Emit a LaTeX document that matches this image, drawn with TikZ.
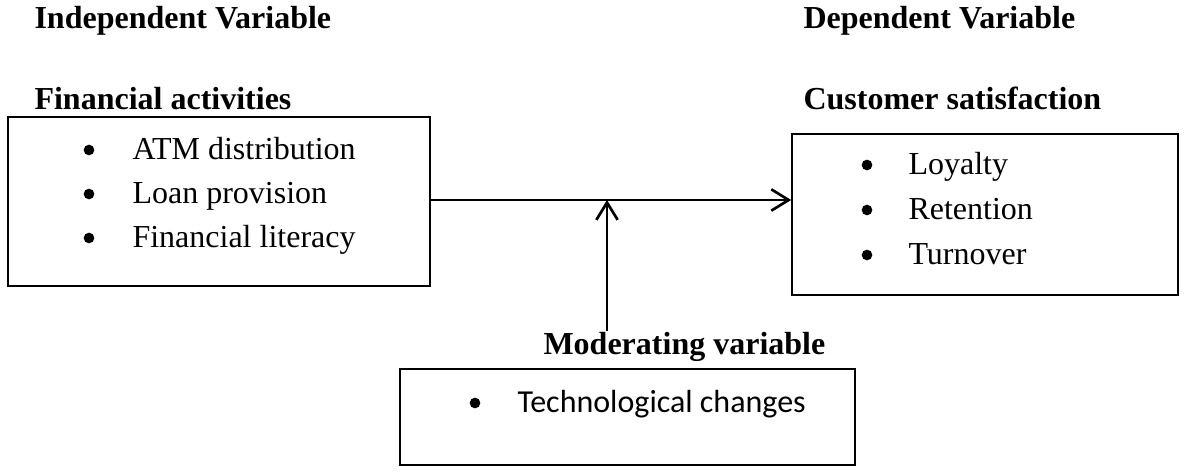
\documentclass[tikz,border=0pt]{standalone}
\usepackage{fontspec}
\setmainfont{Liberation Serif}
\newfontfamily\calibri{Carlito}
\usetikzlibrary{arrows.meta}
\tikzset{
  box/.style={draw, line width=0.6pt, inner sep=0pt},
  head/.style={anchor=base west, inner sep=0pt, font=\fontsize{12}{14}\selectfont\bfseries},
  item/.style={anchor=base west, inner sep=0pt},
  dot/.style={circle, fill, inner sep=0pt, minimum size=4pt},
  link/.style={line width=1.1pt, -{Straight Barb[length=6.5pt,width=8pt,line width=1pt]}}
}
\begin{document}
\begin{tikzpicture}[x=0.375pt, y=-0.375pt, font=\fontsize{12}{14}\selectfont]
\useasboundingbox (0,0) rectangle (1184,473);
% headings
\node[head] (indep) at (34,29) {Independent Variable};
\node[head] (dep) at (803,29) {Dependent Variable};
\node[head] (finhead) at (34,110) {Financial activities};
\node[head] (custhead) at (803,110) {Customer satisfaction};
\node[head] (modhead) at (543,355) {Moderating variable};

% boxes
\node[box, minimum width=158.25pt, minimum height=63.4pt] (fin) at (219,201.5) {};
\node[box, minimum width=144.75pt, minimum height=60.4pt] (cust) at (985,214.5) {};
\node[box, minimum width=170.6pt, minimum height=36pt] (tech) at (627.5,417) {};

% items
\foreach \y/\t in {160/ATM distribution, 204/Loan provision, 248/Financial literacy}
{
    \node[dot] at (89,\y-10) {};
    \node[item] at (132,\y) {\t};
}
\foreach \y/\t in {175/Loyalty, 220/Retention, 265/Turnover}
{
    \node[dot] at (867,\y-10) {};
    \node[item] at (908,\y) {\t};
}
\node[dot] at (475,403) {};
\node[item] at (517,412) {\calibri Technological changes};

% connectors
\coordinate (meet) at (607,200);
\coordinate (modtop) at (607,331);
\draw[link] (fin.east|-meet) -- (cust.west|-meet);
\draw[link] (modtop) -- (meet);
\end{tikzpicture}
\end{document}
